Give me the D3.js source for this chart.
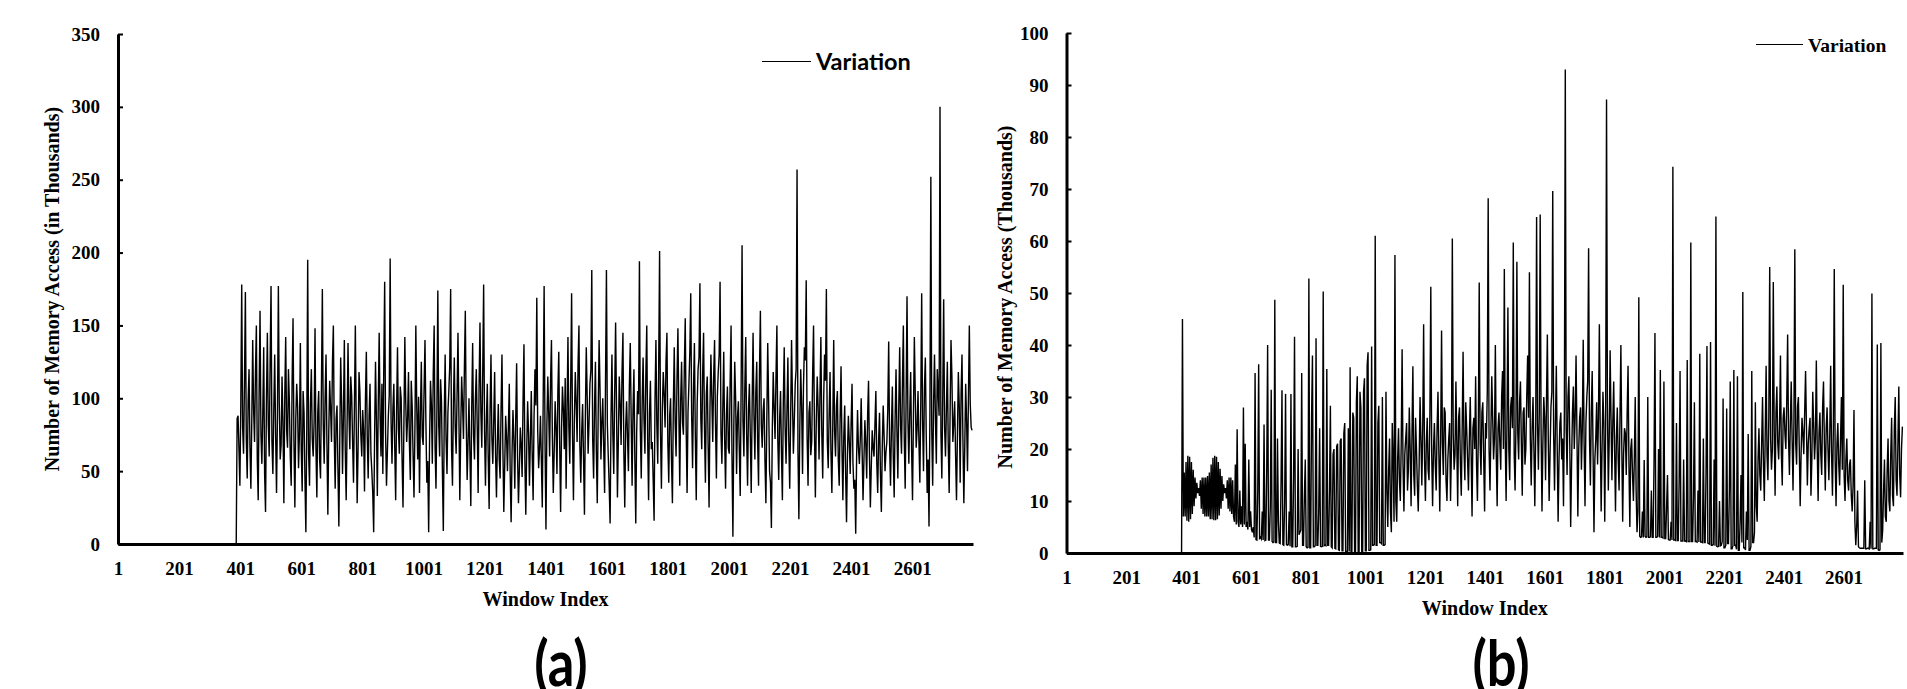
<!DOCTYPE html>
<html>
<head>
<meta charset="utf-8">
<script src="https://d3js.org/d3.v7.min.js"></script>
<style>
  body { margin: 0; background: #fff; }
  .tick text { font-family: "Liberation Serif", "Times New Roman", serif; font-weight: bold; font-size: 19px; fill: #000; }
  .axisTitle { font-family: "Liberation Serif", "Times New Roman", serif; font-weight: bold; font-size: 20px; fill: #000; }
</style>
</head>
<body>
<div id="chart"></div>
<script>

// window indices run 1..2800, values read every 3 windows
var windowCount = 2800;
var windowStep = 3;
var xTickLabels = [1, 201, 401, 601, 801, 1001, 1201, 1401, 1601, 1801, 2001, 2201, 2401, 2601];

// (a) memory access in thousands, starting at window 388
var firstWindowA = 388;
var yTicksA = [0, 50, 100, 150, 200, 250, 300, 350];
var accessA = [
  0, 86, 88, 65, 40, 95, 178, 80, 62, 110, 173, 72, 45, 98, 120, 66, 38, 85, 140, 92, 70, 118, 150, 58, 30, 104, 160, 75, 55, 90, 135, 48, 22, 100, 145, 82, 60, 125, 177, 70,
  48, 92, 130, 75, 35, 88, 177, 96, 58, 68, 115, 84, 28, 102, 142, 78, 66, 120, 98, 60, 40, 112, 155, 70, 25, 86, 110, 94, 52, 76, 138, 64, 36, 105, 90, 45, 8, 80, 195, 62,
  40, 96, 120, 72, 60, 84, 148, 66, 32, 90, 105, 58, 45, 108, 175, 82, 55, 100, 130, 68, 20, 77, 112, 92, 70, 124, 150, 74, 38, 86, 95, 52, 12, 70, 128, 98, 48, 88, 140, 64,
  30, 82, 138, 90, 65, 115, 102, 70, 42, 95, 150, 80, 28, 66, 118, 104, 75, 60, 92, 78, 36, 99, 132, 73, 45, 88, 110, 62, 50, 35, 8, 74, 125, 85, 33, 96, 145, 87, 60, 110,
  48, 120, 180, 76, 40, 64, 88, 102, 196, 84, 55, 93, 110, 66, 30, 91, 135, 79, 62, 108, 100, 58, 25, 83, 142, 97, 70, 86, 118, 69, 44, 112, 95, 61, 32, 78, 150, 94, 58, 101,
  35, 89, 125, 74, 68, 106, 140, 83, 42, 57, 8, 71, 112, 95, 55, 117, 150, 67, 38, 92, 174, 81, 60, 113, 98, 50, 9, 86, 130, 72, 48, 90, 105, 122, 175, 65, 40, 97, 128, 80,
  62, 103, 145, 88, 30, 79, 115, 96, 72, 121, 160, 84, 44, 70, 100, 63, 26, 94, 138, 75, 58, 99, 120, 81, 35, 107, 152, 90, 66, 118, 178, 77, 40, 85, 110, 59, 24, 91, 130, 73,
  55, 84, 118, 62, 32, 70, 96, 58, 45, 93, 130, 66, 22, 54, 88, 74, 50, 81, 110, 47, 15, 63, 92, 71, 38, 86, 124, 60, 28, 52, 80, 68, 46, 99, 137, 57, 20, 65, 98, 76,
  40, 72, 105, 61, 30, 87, 120, 95, 169, 78, 52, 66, 88, 57, 25, 100, 177, 69, 10, 82, 115, 90, 60, 111, 140, 73, 35, 64, 98, 80, 48, 105, 132, 67, 22, 79, 108, 92, 65, 114,
  38, 91, 142, 80, 55, 109, 172, 74, 30, 85, 118, 97, 70, 123, 150, 68, 42, 77, 96, 59, 20, 88, 135, 101, 62, 83, 110, 119, 188, 72, 45, 94, 125, 63, 28, 90, 140, 106, 58, 84,
  100, 66, 35, 112, 188, 82, 60, 40, 14, 87, 130, 75, 48, 104, 152, 93, 32, 71, 115, 96, 68, 118, 145, 63, 25, 80, 98, 73, 50, 108, 138, 86, 40, 92, 120, 58, 14, 77, 105, 89,
  194, 78, 45, 97, 128, 85, 62, 116, 150, 71, 30, 90, 112, 65, 70, 44, 16, 99, 140, 82, 55, 120, 201, 76, 38, 93, 118, 102, 80, 125, 145, 69, 42, 88, 100, 57, 28, 95, 135, 83,
  60, 113, 148, 92, 40, 98, 125, 84, 75, 121, 155, 80, 35, 90, 110, 132, 172, 88, 52, 106, 138, 74, 30, 96, 120, 128, 179, 86, 65, 117, 145, 79, 42, 103, 115, 67, 25, 94, 130, 100,
  70, 115, 140, 83, 45, 101, 118, 130, 180, 76, 55, 94, 132, 72, 38, 89, 108, 66, 62, 112, 150, 60, 5, 81, 125, 99, 48, 87, 98, 64, 33, 110, 205, 84, 60, 107, 142, 75, 40, 92,
  110, 74, 35, 96, 145, 88, 58, 104, 125, 69, 40, 118, 160, 82, 66, 91, 100, 57, 28, 85, 138, 97, 50, 42, 11, 79, 118, 93, 72, 114, 150, 71, 44, 86, 105, 62, 30, 98, 135, 80,
  55, 92, 128, 70, 38, 87, 140, 99, 62, 84, 110, 120, 257, 64, 17, 80, 120, 95, 48, 108, 135, 126, 181, 73, 40, 90, 98, 61, 70, 116, 150, 78, 32, 85, 115, 94, 58, 102, 142, 76,
  45, 98, 130, 112, 175, 71, 52, 89, 118, 63, 35, 82, 140, 77, 60, 95, 105, 58, 40, 86, 122, 67, 30, 74, 95, 49, 15, 62, 88, 70, 48, 83, 110, 56, 38, 44, 7, 60, 92, 66,
  55, 72, 100, 64, 30, 58, 85, 69, 45, 88, 112, 61, 25, 53, 78, 66, 60, 82, 105, 56, 35, 71, 90, 48, 22, 67, 95, 74, 50, 63, 70, 92, 139, 68, 40, 79, 108, 60, 32, 86,
  120, 77, 45, 94, 135, 81, 62, 110, 150, 72, 38, 99, 170, 85, 55, 91, 118, 65, 30, 88, 142, 103, 66, 79, 105, 70, 42, 96, 172, 84, 50, 107, 128, 74, 35, 58, 12, 90, 252, 78,
  40, 97, 130, 86, 55, 120, 105, 88, 300, 76, 45, 102, 168, 80, 60, 93, 125, 68, 35, 89, 140, 115, 70, 83, 98, 61, 30, 75, 118, 95, 42, 104, 130, 72, 28, 66, 110, 85, 50, 100,
  150, 96, 80, 78
];

// (b) memory access in thousands, starting at window 386
var firstWindowB = 386;
var yTicksB = [0, 10, 20, 30, 40, 50, 60, 70, 80, 90, 100];
var accessB = [
  0, 45, 7, 15.5, 7, 17.5, 6.2, 18.7, 6, 18.5, 6.5, 17.5, 7.5, 16, 9, 14.5, 10.5, 13.5, 11.5, 12.5, 11, 14, 8.5, 14.5, 7.5, 14.5, 7, 14.5, 7, 14.8, 7, 15.5, 6.5, 17, 6.5, 18.3, 6.3, 18.7, 6.3, 18.5,
  6.5, 17.5, 7.2, 16.2, 8.5, 14.8, 10, 13.2, 11.5, 12.5, 10.5, 14, 8.5, 14.5, 8, 14.5, 7.5, 14, 7, 6, 17, 5.5, 23.8, 6, 5, 12, 5.5, 9, 5, 28, 5.5, 21, 5, 6, 4.5, 18, 5, 8, 4.5, 4,
  5, 3, 34.6, 2.6, 2.5, 12, 36.3, 2.8, 3, 2.7, 8, 2.5, 24.7, 2.4, 2.5, 16, 40, 2.5, 2.5, 9, 31.4, 2.2, 2, 2.1, 48.7, 2, 2, 22, 6, 1.9, 1.8, 14, 31.3, 1.6, 1.5, 10, 30.6, 1.6, 1.5, 1.6,
  8, 1.3, 30.6, 1.2, 1.2, 15, 41.6, 1.2, 1.2, 1.3, 20, 3.5, 4, 4.4, 34.6, 1.5, 1.5, 11, 18, 1.2, 1, 1.1, 52.8, 1, 1, 26, 38, 1.2, 1.2, 1.4, 41.3, 1.5, 1.5, 8, 24, 1.3, 1.2, 1.3, 50.3, 1.4,
  1.5, 1.4, 35.4, 1.5, 1.5, 12, 28.3, 1.2, 1, 19, 20, 0.9, 0.8, 20.5, 21, 0.6, 0.5, 21.5, 22, 0.4, 0.4, 23, 25, 0.3, 0.3, 0.3, 24, 0.3, 35.7, 0.3, 0.3, 27, 26, 0.3, 0.3, 29, 34, 0.3, 0.3, 31,
  28, 0.3, 0.3, 31, 33.6, 0.4, 0.4, 36, 38.6, 0.5, 0.5, 0.6, 39.7, 1.5, 1.5, 1.6, 61, 1.5, 1.5, 25, 28.3, 2, 2, 1.8, 30, 1.5, 1.5, 1.6, 31, 12, 5, 16, 22, 8, 4, 25, 18, 6, 57.3, 10,
  6, 18, 24, 14, 10, 21, 39.2, 17, 8, 19, 22, 25, 12, 16, 28, 20, 9, 23, 35.9, 15, 11, 26, 20, 13, 8, 17, 30, 22, 13, 24, 44, 18, 10, 21, 26, 16, 14, 27, 51.2, 19,
  9, 20, 25, 17, 12, 24, 31, 19, 8, 22, 42.8, 21, 15, 28, 27, 14, 10, 18, 22, 25, 10, 20, 60.5, 23, 16, 19, 33, 21, 9, 26, 28, 17, 11, 24, 38.7, 20, 14, 29, 24, 18,
  12, 22, 30, 19, 7, 24, 26, 20, 34, 17, 10, 23, 52, 21, 15, 27, 29, 18, 8, 25, 22, 31, 68.2, 20, 12, 23, 34, 26, 18, 22, 40, 19, 9, 24, 27, 21, 16, 30, 35, 20,
  54.6, 22, 10, 26, 47.2, 20, 14, 28, 30, 24, 59.7, 19, 12, 25, 56, 23, 18, 29, 33, 21, 11, 27, 28, 17, 20, 30, 38, 26, 54, 22, 13, 24, 30, 20, 9, 23, 64.6, 25, 16, 27,
  65.1, 24, 8, 21, 30, 26, 14, 29, 42, 22, 10, 19, 28, 31, 69.6, 23, 12, 25, 36, 20, 6, 18, 25, 27, 18, 22, 9, 28, 93, 24, 15, 30, 34, 21, 5, 17, 27, 32, 20, 26,
  38, 23, 7, 20, 26, 28, 16, 24, 41, 21, 9, 25, 30, 33, 58.6, 22, 13, 27, 35, 19, 4, 18, 22, 29, 17, 26, 44, 23, 8, 20, 31, 25, 6, 24, 87.2, 28, 12, 22, 39, 26,
  14, 25, 33, 20, 8, 22, 28, 18, 12, 26, 40, 21, 6, 19, 24, 23, 15, 27, 36, 17, 5, 20, 22, 15, 10, 18, 30, 12, 4, 8, 49.2, 3.2, 3, 3.1, 8, 3, 17.9, 3.2, 3, 3.1,
  30, 3, 3, 3.1, 12, 3, 3, 18, 42.3, 3, 3, 3.2, 20, 3, 35.2, 3, 3, 2.9, 33, 2.8, 2.8, 9, 15, 2.6, 2.5, 2.5, 6, 2.5, 74.3, 2.5, 2.5, 2.4, 25, 2.4, 2.4, 14, 35, 2.3, 2.3, 2.3,
  18, 2.3, 2.3, 2.2, 37.1, 2.2, 2.2, 2.2, 59.7, 2.2, 2.2, 11, 29, 2.2, 2.2, 2.1, 12, 2.1, 38.3, 2.1, 2.1, 2, 22, 2, 2, 16, 39.8, 1.9, 1.8, 1.7, 40.6, 1.5, 1.5, 1.6, 18, 1.4, 64.7, 1.3, 1.2, 1.3,
  10, 1.4, 1.5, 2.2, 29.7, 1, 1, 1.5, 27.8, 1.8, 1.8, 12, 33, 0.8, 0.8, 1.4, 35.2, 1.5, 1.5, 0.7, 34, 0.5, 0.5, 6, 15, 2, 50.2, 1, 1, 0.6, 8, 2.5, 22.9, 0.5, 0.5, 1.2, 35, 2, 2, 4,
  29, 9, 6, 18, 24, 15, 12, 21, 30, 17, 10, 23, 36, 19, 14, 26, 55, 22, 16, 20, 52.1, 24, 11, 27, 32, 21, 18, 25, 38, 19, 13, 26, 28, 23, 20, 29, 42, 22, 15, 25,
  33, 22, 12, 25, 58.4, 21, 17, 28, 30, 20, 9, 19, 26, 23, 19, 27, 35, 24, 13, 21, 24, 26, 11, 18, 31, 25, 18, 22, 37, 20, 10, 23, 27, 19, 15, 28, 33, 21, 12, 24,
  28, 20, 14, 23, 36, 19, 11, 24, 54.6, 18, 9, 21, 25, 17, 13, 22, 30, 16, 51.6, 15, 10, 18, 22, 14, 12, 17, 18, 11, 8, 13, 27.5, 6, 1.5, 5, 12, 1.2, 1, 0.9, 0.9, 0.9,
  0.9, 0.9, 14, 0.8, 0.8, 0.9, 0.9, 0.8, 6, 0.8, 49.9, 0.8, 0.8, 0.9, 0.9, 0.9, 40.1, 0.6, 0.5, 0.6, 40.4, 2, 4.4, 12, 18, 7, 6, 16, 22, 10, 8, 19, 26, 11, 9, 24, 30, 14, 11, 21,
  32, 15, 10.7, 20, 24.3
];

var svg = d3.select('#chart')
  .append('svg')
  .attr('width', 1907)
  .attr('height', 689)
  .style('background', '#fff');

function drawPanel(p) {
  var xScale = d3.scaleLinear()
    .domain([1, windowCount])
    .range([p.left, p.right]);

  var yScale = d3.scaleLinear()
    .domain([0, p.yMax])
    .range([p.bottom, p.top]);

  var g = svg.append('g');

  var valueline = d3.line()
    .x(function(d, i) { return xScale(p.firstWindow + i * windowStep); })
    .y(function(d) { return yScale(d); });

  g.append('path')
    .datum(p.values)
    .attr('d', valueline)
    .attr('fill', 'none')
    .attr('stroke', '#000')
    .attr('stroke-width', 1.4);

  // y axis with small inside ticks
  var yAxis = g.append('g')
    .attr('transform', 'translate(' + p.left + ',0)')
    .call(d3.axisLeft(yScale)
      .tickValues(p.yTicks)
      .tickSizeInner(-5)
      .tickSizeOuter(0)
      .tickPadding(18));
  yAxis.select('.domain').attr('stroke', '#000').attr('stroke-width', 3);
  yAxis.selectAll('.tick line').attr('stroke', '#000').attr('stroke-width', 2);

  // x axis, labels only
  var xAxis = g.append('g')
    .attr('transform', 'translate(0,' + p.bottom + ')')
    .call(d3.axisBottom(xScale)
      .tickValues(xTickLabels)
      .tickFormat(d3.format('d'))
      .tickSize(0)
      .tickPadding(17.5));
  xAxis.select('.domain').attr('stroke', '#000').attr('stroke-width', 3);

  g.append('text') // text label for the x axis
    .attr('class', 'axisTitle')
    .attr('x', (p.left + p.right) / 2)
    .attr('y', p.xTitleY)
    .style('text-anchor', 'middle')
    .text('Window Index');

  g.append('text') // text label for the y axis
    .attr('class', 'axisTitle')
    .attr('transform', 'translate(' + p.yTitleX + ',' + p.yTitleY + ') rotate(-90)')
    .style('text-anchor', 'middle')
    .text(p.yTitle);

  // legend
  g.append('line')
    .attr('x1', p.legendX).attr('x2', p.legendX + p.legendLen)
    .attr('y1', p.legendY).attr('y2', p.legendY)
    .attr('stroke', '#000')
    .attr('stroke-width', 1);

  g.append('text')
    .attr('x', p.legendX + p.legendLen + 5)
    .attr('y', p.legendY + p.legendDy)
    .style('font-family', p.legendFont)
    .style('font-weight', 'bold')
    .style('font-size', p.legendSize + 'px')
    .text('Variation');

  // panel caption, cut by the bottom edge as in the source figure
  g.append('text')
    .attr('transform', 'translate(' + p.captionX + ',686) scale(0.82,1)')
    .style('font-family', 'Lato, "Open Sans", sans-serif')
    .style('font-weight', 'bold')
    .style('font-size', '64px')
    .style('text-anchor', 'middle')
    .text(p.caption);
}

drawPanel({
  values: accessA, firstWindow: firstWindowA, yTicks: yTicksA, yMax: 350,
  left: 118, right: 973, top: 34, bottom: 544,
  xTitleY: 606, yTitleX: 59, yTitleY: 289,
  yTitle: 'Number of Memory Access (in Thousands)',
  legendX: 762, legendLen: 49, legendY: 61.5, legendDy: 8, legendSize: 23.5,
  legendFont: 'Lato, "Open Sans", sans-serif',
  captionX: 561, caption: '(a)'
});

drawPanel({
  values: accessB, firstWindow: firstWindowB, yTicks: yTicksB, yMax: 100,
  left: 1066.5, right: 1903, top: 33, bottom: 553,
  xTitleY: 615, yTitleX: 1012, yTitleY: 297,
  yTitle: 'Number of Memory Access (Thousands)',
  legendX: 1756, legendLen: 47, legendY: 44.5, legendDy: 7.5, legendSize: 19.5,
  legendFont: '"Liberation Serif", "Times New Roman", serif',
  captionX: 1501, caption: '(b)'
});

</script>
</body>
</html>
